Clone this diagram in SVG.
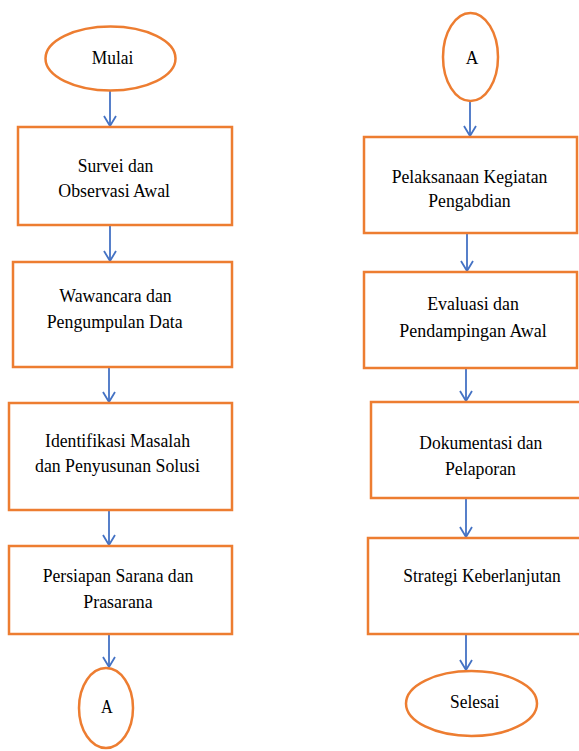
<svg xmlns="http://www.w3.org/2000/svg" width="579" height="751" viewBox="0 0 579 751">
<style>
.n{fill:#fff;stroke:#ED7D31;stroke-width:2.5}
.t{font-family:'Liberation Serif',serif;font-size:18px;fill:#000;text-anchor:middle}
.c{fill:none;stroke:#4472C4;stroke-width:1.8}
</style>
<rect width="579" height="751" fill="#fff"/>
<g id="connectors">
<line class="c" x1="110" y1="91" x2="110" y2="126"/>
<line class="c" x1="110" y1="226" x2="110" y2="261"/>
<line class="c" x1="109" y1="368" x2="109" y2="402"/>
<line class="c" x1="109" y1="511" x2="109" y2="545"/>
<line class="c" x1="109" y1="635" x2="109" y2="667"/>
<line class="c" x1="470" y1="101" x2="470" y2="136"/>
<line class="c" x1="467" y1="234" x2="467" y2="271"/>
<line class="c" x1="466" y1="369" x2="466" y2="401"/>
<line class="c" x1="466" y1="499" x2="466" y2="537"/>
<line class="c" x1="466" y1="635" x2="466" y2="670"/>
<path class="c" d="M104,116 L110,126 L116,116"/>
<path class="c" d="M104,251 L110,261 L116,251"/>
<path class="c" d="M103,392 L109,402 L115,392"/>
<path class="c" d="M103,535 L109,545 L115,535"/>
<path class="c" d="M103,657 L109,667 L115,657"/>
<path class="c" d="M464,126 L470,136 L476,126"/>
<path class="c" d="M461,261 L467,271 L473,261"/>
<path class="c" d="M460,391 L466,401 L472,391"/>
<path class="c" d="M460,527 L466,537 L472,527"/>
<path class="c" d="M460,660 L466,670 L472,660"/>
</g>
<g id="mulai"><ellipse class="n" cx="110.5" cy="58.5" rx="65" ry="32"/><text class="t" x="112.5" y="64" textLength="41.6" lengthAdjust="spacingAndGlyphs">Mulai</text></g>
<g id="survei"><rect class="n" x="18" y="127" width="214" height="98"/><text class="t" x="115.5" y="171.7" textLength="75.6" lengthAdjust="spacingAndGlyphs">Survei dan</text><text class="t" x="114.2" y="196.7" textLength="111.7" lengthAdjust="spacingAndGlyphs">Observasi Awal</text></g>
<g id="wawancara"><rect class="n" x="13" y="262" width="219" height="105"/><text class="t" x="115.5" y="301.7" textLength="112.4" lengthAdjust="spacingAndGlyphs">Wawancara dan</text><text class="t" x="114.7" y="328.3" textLength="136" lengthAdjust="spacingAndGlyphs">Pengumpulan Data</text></g>
<g id="identifikasi"><rect class="n" x="9" y="403" width="223" height="107"/><text class="t" x="117.5" y="446.7" textLength="145" lengthAdjust="spacingAndGlyphs">Identifikasi Masalah</text><text class="t" x="117.5" y="471.7" textLength="165" lengthAdjust="spacingAndGlyphs">dan Penyusunan Solusi</text></g>
<g id="persiapan"><rect class="n" x="9" y="546" width="223" height="88"/><text class="t" x="118" y="581.7" textLength="150.6" lengthAdjust="spacingAndGlyphs">Persiapan Sarana dan</text><text class="t" x="118" y="607.7" textLength="69.4" lengthAdjust="spacingAndGlyphs">Prasarana</text></g>
<g id="a-out"><ellipse class="n" cx="106" cy="708" rx="27" ry="40"/><text class="t" x="106.8" y="713" textLength="11.7" lengthAdjust="spacingAndGlyphs">A</text></g>
<g id="a-in"><ellipse class="n" cx="470.5" cy="57" rx="27.5" ry="44"/><text class="t" x="472" y="64" textLength="12.6" lengthAdjust="spacingAndGlyphs">A</text></g>
<g id="pelaksanaan"><rect class="n" x="364" y="137" width="213" height="96"/><text class="t" x="469.5" y="182.7" textLength="155.7" lengthAdjust="spacingAndGlyphs">Pelaksanaan Kegiatan</text><text class="t" x="469.5" y="207" textLength="82.4" lengthAdjust="spacingAndGlyphs">Pengabdian</text></g>
<g id="evaluasi"><rect class="n" x="364" y="272" width="213" height="96"/><text class="t" x="473" y="310" textLength="91.7" lengthAdjust="spacingAndGlyphs">Evaluasi dan</text><text class="t" x="473" y="336.7" textLength="147.4" lengthAdjust="spacingAndGlyphs">Pendampingan Awal</text></g>
<g id="dokumentasi"><rect class="n" x="371" y="402" width="210" height="96"/><text class="t" x="480.8" y="449.3" textLength="123" lengthAdjust="spacingAndGlyphs">Dokumentasi dan</text><text class="t" x="480.5" y="475" textLength="71" lengthAdjust="spacingAndGlyphs">Pelaporan</text></g>
<g id="strategi"><rect class="n" x="368" y="538" width="213" height="96"/><text class="t" x="482" y="581.7" textLength="157.4" lengthAdjust="spacingAndGlyphs">Strategi Keberlanjutan</text></g>
<g id="selesai"><ellipse class="n" cx="471.5" cy="703.5" rx="65.5" ry="32.5"/><text class="t" x="474.7" y="708.3" textLength="49.3" lengthAdjust="spacingAndGlyphs">Selesai</text></g>
</svg>
